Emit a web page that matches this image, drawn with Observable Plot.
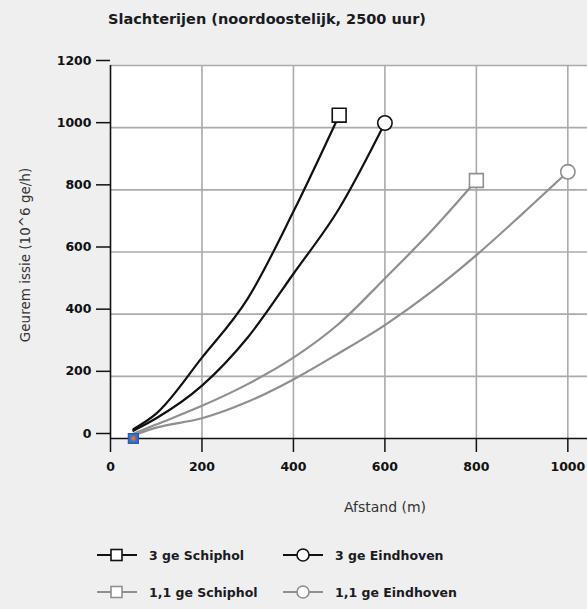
<!DOCTYPE html>
<html><head><meta charset="utf-8">
<script src="https://cdn.jsdelivr.net/npm/d3@7"></script>
<script src="https://cdn.jsdelivr.net/npm/@observablehq/plot@0.6"></script>
<style>
body{margin:0;background:#efefef;}
#wrap{position:relative;width:587px;height:609px;overflow:hidden;font-family:"DejaVu Sans",sans-serif;color:#1a1a22;}
#wrap svg.chart{position:absolute;left:0;top:0;}
.abs{position:absolute;white-space:nowrap;}
#title{left:267px;top:19px;transform:translate(-50%,-50%);font-weight:bold;font-size:14.5px;}
#ylab{left:25px;top:255px;transform:translate(-50%,-50%) rotate(-90deg);font-size:13.5px;color:#333;}
#xlab{left:385px;top:507px;transform:translate(-50%,-50%);font-size:14px;color:#333;}
.leg{position:absolute;display:flex;align-items:center;font-weight:bold;font-size:12.5px;}
.leg svg{margin-right:10px;}
</style></head>
<body>
<div id="wrap">
  <div id="title" class="abs">Slachterijen (noordoostelijk, 2500 uur)</div>
  <div id="ylab" class="abs">Geurem issie (10^6 ge/h)</div>
  <div id="xlab" class="abs">Afstand (m)</div>
</div>
<script>
const seriesNames = ["3 ge Schiphol", "3 ge Eindhoven", "1,1 ge Schiphol", "1,1 ge Eindhoven"];
const seriesColors = ["#111111", "#111111", "#8f8f8f", "#8f8f8f"];
const seriesSymbols = ["square", "circle", "square", "circle"];

const x3S = [50, 100, 200, 300, 400, 500];
const y3S = [30, 80, 260, 450, 730, 1040];
const x3E = [50, 100, 200, 300, 400, 500, 600];
const y3E = [25, 65, 170, 325, 530, 740, 1015];
const x11S = [50, 100, 200, 300, 400, 500, 600, 700, 800];
const y11S = [15, 45, 105, 175, 260, 370, 515, 665, 830];
const x11E = [50, 100, 200, 300, 400, 500, 600, 700, 800, 900, 1000];
const y11E = [10, 35, 65, 118, 190, 275, 365, 470, 590, 722, 858];

const xTicks = [0, 200, 400, 600, 800, 1000];
const yTicks = [0, 200, 400, 600, 800, 1000, 1200];
const originMarker = [{x: 50, y: 0}];

const xsAll = [x3S, x3E, x11S, x11E];
const ysAll = [y3S, y3E, y11S, y11E];
const rows = [];
const ends = [];
seriesNames.forEach((name, i) => {
  xsAll[i].forEach((x, j) => rows.push({series: name, color: seriesColors[i], x, y: ysAll[i][j]}));
  const n = xsAll[i].length - 1;
  ends.push({series: name, color: seriesColors[i], symbol: seriesSymbols[i], x: xsAll[i][n], y: ysAll[i][n]});
});
const endSquares = ends.filter(d => d.symbol === "square");
const endCircles = ends.filter(d => d.symbol === "circle");

const chart = Plot.plot({
  width: 587, height: 609,
  marginTop: 65, marginBottom: 171, marginLeft: 110, marginRight: 0,
  x: {domain: [0, 1043]},
  y: {domain: [0, 1200]},
  color: {type: "identity"},
  style: {background: "transparent", fontFamily: "'DejaVu Sans', sans-serif", fontSize: "12.5px", color: "#111"},
  marks: [
    Plot.frame({fill: "white", stroke: null}),
    Plot.gridX(xTicks.filter(d => d > 0), {stroke: "#ababab", strokeOpacity: 1, strokeWidth: 1.6}),
    Plot.gridY(yTicks.filter(d => d > 0), {stroke: "#ababab", strokeOpacity: 1, strokeWidth: 1.6}),
    Plot.axisX(xTicks, {tickSize: 14, tickPadding: 10, fontWeight: "bold", label: null, strokeWidth: 1.5, stroke: "#111", tickFormat: d => String(d)}),
    Plot.axisY(yTicks, {tickSize: 14, tickPadding: 5, dy: -5, fontWeight: "bold", label: null, strokeWidth: 1.5, stroke: "#111", tickFormat: d => String(d)}),
    Plot.ruleX([0], {stroke: "#111", strokeWidth: 1.6}),
    Plot.ruleY([0], {stroke: "#111", strokeWidth: 1.6}),
    Plot.line(rows, {x: "x", y: "y", z: "series", stroke: "color", strokeWidth: 2.2, curve: "monotone-x"}),
    Plot.dot(endSquares, {x: "x", y: "y", symbol: "square", r: 7.8, fill: "white", stroke: "color", strokeWidth: 1.6}),
    Plot.dot(endCircles, {x: "x", y: "y", symbol: "circle", r: 7.2, fill: "white", stroke: "color", strokeWidth: 1.6}),
    Plot.dot(originMarker, {x: "x", y: "y", symbol: "square", r: 5.5, fill: "#3f74c8", stroke: "#2a5db0"}),
    Plot.dot(originMarker, {x: "x", y: "y", r: 2.2, fill: "#e8701a"})
  ]
});
chart.classList.add("chart");
const wrap = document.getElementById("wrap");
wrap.insertBefore(chart, wrap.firstChild);

// legend
const legPos = [[97, 555], [283, 555], [97, 592], [283, 592]];
seriesNames.forEach((name, i) => {
  const div = document.createElement("div");
  div.className = "leg";
  div.style.left = legPos[i][0] + "px";
  div.style.top = (legPos[i][1] - 9) + "px";
  const c = seriesColors[i];
  const sym = seriesSymbols[i] === "square"
    ? `<rect x="14" y="3.5" width="11" height="11" fill="white" stroke="${c}" stroke-width="1.6"/>`
    : `<circle cx="20" cy="9" r="6" fill="white" stroke="${c}" stroke-width="1.6"/>`;
  div.innerHTML = `<svg width="42" height="18"><line x1="0" x2="40" y1="9" y2="9" stroke="${c}" stroke-width="2"/>${sym}</svg><span>${name}</span>`;
  wrap.appendChild(div);
});
</script>
</body></html>
